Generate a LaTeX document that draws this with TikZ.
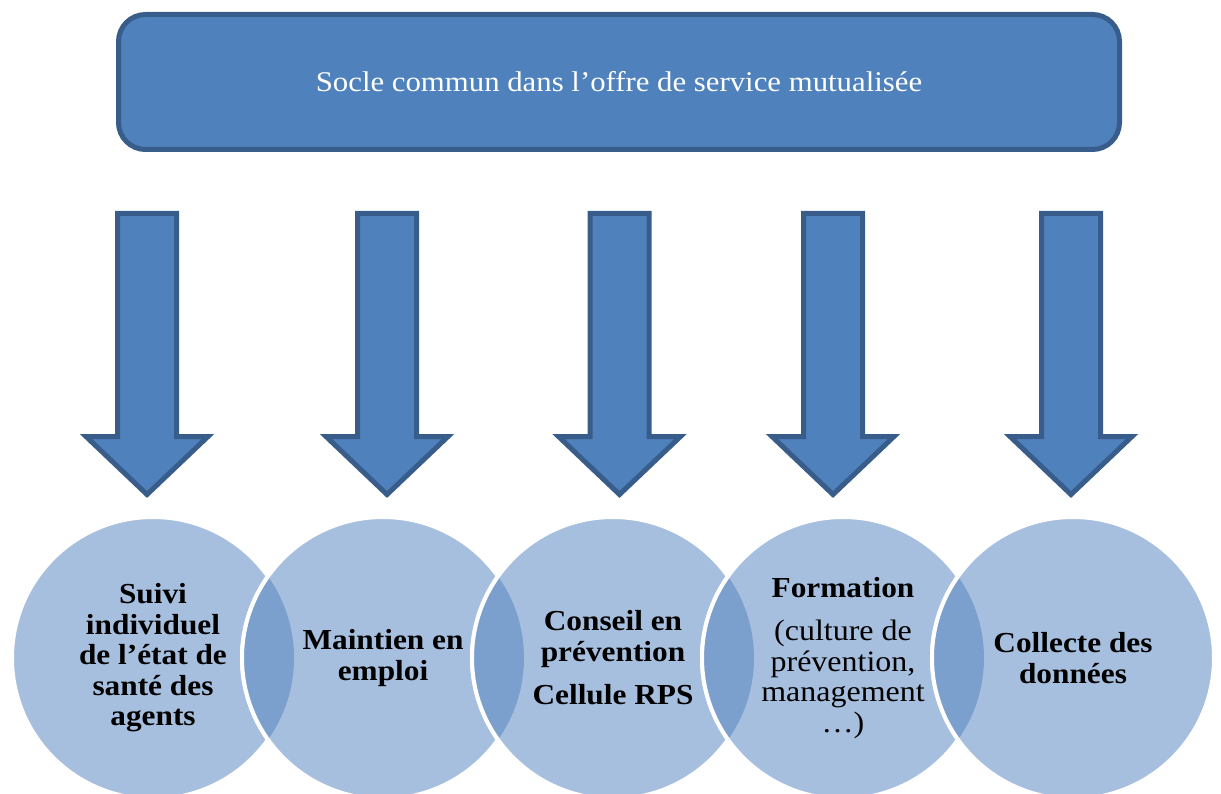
\documentclass[tikz,border=0pt]{standalone}
\usepackage{fontspec}
\setmainfont{Liberation Serif}[FakeStretch=1.08]
\definecolor{boxfill}{HTML}{4F81BD}
\definecolor{boxline}{HTML}{385D8A}
\definecolor{circfill}{HTML}{A7BFDE}
\definecolor{circdark}{HTML}{7BA0CD}
\tikzset{
  topbox/.style={draw=boxline, fill=boxfill, line width=5pt, rounded corners=27pt,
    minimum width=1001pt, minimum height=135pt, text=white, inner sep=0pt,
    font=\fontsize{28.5pt}{34pt}\selectfont},
  blockarrow/.style={draw=boxline, fill=boxfill, line width=5pt, line join=miter},
  circ/.style={circle, fill=circfill, draw=white, line width=4pt, minimum size=282pt, inner sep=0pt},
  overlapfill/.style={fill=circdark},
  overlapline/.style={draw=white, line width=4pt},
  circtext/.style={align=center, text=black, inner sep=0pt,
    font=\bfseries\fontsize{29pt}{30.5pt}\selectfont},
}
\newcommand\lighttext{\mdseries\fontsize{29.6pt}{31pt}\selectfont}
\newcommand\mydownarrow[1]{%
  \draw[blockarrow] ({#1-29.5},213.5) -- ({#1+29.5},213.5) -- ({#1+29.5},436.5)
    -- ({#1+61},436.5) -- (#1,494.5) -- ({#1-61},436.5) -- ({#1-29.5},436.5) -- cycle;}
\begin{document}
\begin{tikzpicture}[x=1pt,y=-1pt]
\useasboundingbox (0,0) rectangle (1221,794);
\node[topbox] (socle) at (619,82) {Socle commun dans l’offre de service mutualisée};
\mydownarrow{147}
\mydownarrow{387}
\mydownarrow{619.5}
\mydownarrow{833}
\mydownarrow{1071}
\foreach \i/\x in {1/153,2/383,3/613,4/843,5/1073}{
  \node[circ] (c\i) at (\x,658) {};
}
\foreach \a/\b in {c1/c2,c2/c3,c3/c4,c4/c5}{
  \begin{scope}
    \clip (\a.center) circle (141pt);
    \fill[overlapfill] (\b.center) circle (141pt);
    \draw[overlapline] (\b.center) circle (141pt);
  \end{scope}
}
\node[circtext] (t1) at (c1.center) {Suivi\\individuel\\de l’état de\\santé des\\agents};
\node[circtext] (t2) at (c2.center) {Maintien en\\emploi};
\node[circtext] (t3) at (c3.center) {Conseil en\\prévention\\[13pt]Cellule RPS};
\node[circtext] (t4) at (c4.center) {Formation\\[13pt]{\lighttext (culture de}\\{\lighttext prévention,}\\{\lighttext management}\\{\lighttext …)}};
\node[circtext] (t5) at (c5.center) {Collecte des\\données};
\end{tikzpicture}
\end{document}
